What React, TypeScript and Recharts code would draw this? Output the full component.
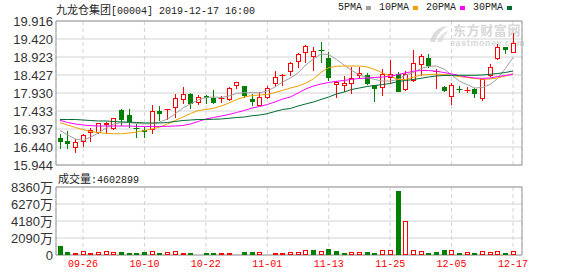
import React from "react";
import {
  ComposedChart,
  Bar,
  Line,
  XAxis,
  YAxis,
  CartesianGrid,
  ReferenceArea,
} from "recharts";

// trading days shown (HK market, 2019)
const dates = [
  "09-23", "09-24", "09-25", "09-26", "09-27", "09-30",
  "10-02", "10-03", "10-04", "10-08", "10-09", "10-10", "10-11", "10-14", "10-15",
  "10-16", "10-17", "10-18", "10-21", "10-22", "10-23", "10-24", "10-25", "10-28",
  "10-29", "10-30", "10-31",
  "11-01", "11-04", "11-05", "11-06", "11-07", "11-08", "11-11", "11-12", "11-13",
  "11-14", "11-15", "11-18", "11-19", "11-20", "11-21", "11-22", "11-25", "11-26",
  "11-27", "11-28", "11-29",
  "12-02", "12-03", "12-04", "12-05", "12-06", "12-09", "12-10", "12-11", "12-12",
  "12-13", "12-16", "12-17",
];

const tickDates = ["09-26", "10-10", "10-22", "11-01", "11-13", "11-25", "12-05", "12-17"];

const opens = [
  16.698, 16.606, 16.422, 16.579, 16.817, 16.817, 17.038, 16.928, 17.452, 17.314,
  16.974, 16.909, 16.909, 17.434, 17.461, 17.507, 17.728, 17.912, 17.663, 17.847,
  17.783, 17.765, 17.728, 18.123, 18.123, 17.774, 17.571, 17.783, 18.169, 18.417,
  18.519, 18.785, 19.043, 18.932, 19.116, 18.905, 18.141, 18.114, 18.169, 18.39,
  18.417, 18.151, 18.059, 18.335, 18.445, 18.004, 18.261, 18.702, 18.886, 18.528,
  18.105, 17.82, 18.05, 18.004, 18.031, 17.755, 18.399, 18.859, 19.199, 19.043,
];
const closes = [
  16.588, 16.533, 16.579, 16.762, 16.909, 17.093, 17.093, 17.231, 17.185, 17.112,
  16.928, 16.864, 17.424, 17.36, 17.48, 17.783, 17.893, 17.636, 17.829, 17.801,
  17.645, 17.783, 18.059, 18.224, 17.847, 17.691, 17.82, 18.059, 18.371, 18.426,
  18.748, 18.997, 19.217, 19.079, 19.098, 18.353, 18.233, 18.206, 18.353, 18.472,
  18.169, 18.05, 18.445, 18.445, 17.967, 18.463, 18.767, 18.951, 18.675, 18.537,
  17.985, 18.141, 18.013, 18.022, 17.893, 18.307, 18.656, 19.208, 19.107, 19.3,
];
const highs = [
  16.79, 16.882, 16.652, 16.79, 16.974, 17.112, 17.13, 17.25, 17.48, 17.48,
  17.066, 16.992, 17.59, 17.571, 17.489, 17.893, 18.096, 17.939, 17.875, 17.875,
  18.013, 17.847, 18.096, 18.233, 18.132, 17.893, 17.958, 18.123, 18.537, 18.445,
  18.794, 19.043, 19.245, 19.199, 19.346, 19.061, 18.261, 18.399, 18.656, 18.656,
  18.491, 18.151, 18.583, 18.84, 18.509, 18.537, 19.107, 18.997, 19.015, 18.583,
  18.123, 18.215, 18.123, 18.105, 18.077, 18.325, 18.721, 19.291, 19.208, 19.594,
];
const lows = [
  16.395, 16.376, 16.284, 16.441, 16.588, 16.808, 16.79, 16.919, 17.011, 16.974,
  16.698, 16.698, 16.79, 17.158, 17.185, 17.25, 17.636, 17.48, 17.59, 17.617,
  17.617, 17.663, 17.709, 18.031, 17.801, 17.571, 17.562, 17.755, 18.105, 18.123,
  18.399, 18.61, 18.767, 18.537, 18.767, 18.261, 17.801, 17.958, 17.893, 18.307,
  18.151, 17.691, 17.847, 18.169, 17.967, 17.985, 18.243, 18.399, 18.629, 18.05,
  17.967, 17.599, 17.939, 17.939, 17.801, 17.709, 18.38, 18.84, 19.015, 19.024,
];

const ma5 = [
  16.896, 16.772, 16.661, 16.62, 16.716, 16.827, 16.965, 17.075, 17.111, 17.111,
  17.089, 17.075, 17.083, 17.13, 17.213, 17.351, 17.516, 17.627, 17.737, 17.806,
  17.82, 17.806, 17.847, 17.916, 17.938, 17.938, 17.938, 17.985, 18.096, 18.233,
  18.344, 18.482, 18.702, 18.868, 19.006, 18.992, 18.854, 18.702, 18.551, 18.427,
  18.358, 18.302, 18.261, 18.261, 18.302, 18.427, 18.495, 18.606, 18.661, 18.675,
  18.592, 18.427, 18.261, 18.164, 18.068, 18.082, 18.164, 18.33, 18.606, 18.909,
];
const ma10 = [
  17.111, 17.047, 16.978, 16.923, 16.868, 16.84, 16.818, 16.807, 16.807, 16.827,
  16.854, 16.896, 16.937, 16.992, 17.075, 17.171, 17.268, 17.364, 17.447, 17.475,
  17.508, 17.571, 17.654, 17.751, 17.82, 17.861, 17.875, 17.889, 17.944, 18.004,
  18.068, 18.12, 18.2, 18.32, 18.5, 18.633, 18.666, 18.675, 18.675, 18.675,
  18.647, 18.578, 18.482, 18.399, 18.302, 18.302, 18.363, 18.427, 18.44, 18.446,
  18.44, 18.418, 18.385, 18.358, 18.33, 18.308, 18.316, 18.344, 18.399, 18.462,
];
const ma20 = [
  17.177, 17.116, 17.075, 17.047, 17.028, 17.02, 17.02, 17.02, 17.02, 17.02,
  17.011, 17.006, 17.006, 17.006, 17.011, 17.02, 17.034, 17.075, 17.144, 17.213,
  17.254, 17.296, 17.337, 17.392, 17.447, 17.516, 17.558, 17.613, 17.682, 17.764,
  17.82, 17.93, 18.04, 18.123, 18.178, 18.22, 18.253, 18.275, 18.308, 18.33,
  18.344, 18.358, 18.371, 18.391, 18.44, 18.482, 18.529, 18.551, 18.551, 18.529,
  18.495, 18.454, 18.413, 18.371, 18.344, 18.335, 18.344, 18.385, 18.413, 18.446,
];
const ma30 = [
  17.199, 17.199, 17.199, 17.185, 17.171, 17.158, 17.158, 17.144, 17.13, 17.13,
  17.116, 17.103, 17.103, 17.103, 17.116, 17.144, 17.171, 17.185, 17.199, 17.199,
  17.205, 17.213, 17.232, 17.254, 17.268, 17.301, 17.323, 17.359, 17.42, 17.475,
  17.502, 17.571, 17.627, 17.682, 17.751, 17.82, 17.903, 17.958, 18.027, 18.068,
  18.109, 18.137, 18.164, 18.192, 18.247, 18.275, 18.302, 18.335, 18.371, 18.399,
  18.413, 18.418, 18.418, 18.418, 18.418, 18.427, 18.446, 18.468, 18.495, 18.537,
];

// volume in 万 shares
const volumes = [
  1100, 370, 240, 450, 250, 330, 450, 330, 370, 250,
  240, 360, 450, 250, 320, 440, 230, 250, 130, 240,
  250, 240, 250, 120, 380, 370, 320, 130, 240, 250,
  330, 320, 570, 580, 450, 740, 490, 250, 320, 330,
  370, 250, 570, 580, 7870, 4140, 580, 450, 250, 370,
  610, 570, 240, 330, 250, 450, 330, 450, 250, 460,
];
// 1 = closed above previous close (red), 0 = below (green)
const volumeUp = [
  0, 0, 1, 1, 1, 1, 1, 1, 0, 0,
  0, 0, 1, 0, 1, 1, 1, 0, 1, 0,
  0, 1, 1, 1, 0, 0, 1, 1, 1, 1,
  1, 1, 1, 0, 1, 0, 0, 0, 1, 1,
  0, 0, 1, 1, 0, 1, 1, 1, 0, 0,
  0, 1, 0, 1, 0, 1, 1, 1, 0, 1,
];

const priceTicks = [15.944, 16.44, 16.937, 17.433, 17.93, 18.427, 18.923, 19.42, 19.916];
const volumeTicks = [0, 2090, 4180, 6270, 8360];
const lastVolume = "4602899";

const RED = "#ff0000";
const GREEN = "#008000";
const MA_COLORS = { ma5: "#a0a0a0", ma10: "#f0a000", ma20: "#ff00ff", ma30: "#006b33" };
const X_DOMAIN: [number, number] = [-0.52, 60.17];
const axisFont = "'Liberation Sans', Arial, 'Noto Sans CJK SC', sans-serif";
const monoFont = "'Liberation Mono', 'DejaVu Sans Mono', monospace";

const data = dates.map((d, i) => ({
  idx: i,
  date: d,
  open: opens[i],
  close: closes[i],
  high: highs[i],
  low: lows[i],
  range: [lows[i], highs[i]],
  ma5: ma5[i],
  ma10: ma10[i],
  ma20: ma20[i],
  ma30: ma30[i],
  vol: volumes[i],
  volUp: volumeUp[i],
}));

const xTicks = data.filter((d) => tickDates.includes(d.date)).map((d) => d.idx);

function Candle(props: any) {
  const { x, y, width, height, payload } = props;
  if (x == null || !payload) return null;
  const { open, close, high, low } = payload;
  const top = Math.min(y, y + height);
  const span = Math.abs(height);
  const toY = (v: number) => top + ((high - v) / (high - low)) * span;
  const cx = Math.round(x + width / 2) + 0.5;
  const up = close >= open;
  const color = up ? RED : GREEN;
  const bTop = Math.round(toY(Math.max(open, close)));
  const bBot = Math.round(toY(Math.min(open, close)));
  const wTop = Math.round(top);
  const wBot = Math.round(top + span);

  if (bBot - bTop < 2) {
    return (
      <g>
        <line x1={cx} x2={cx} y1={wTop} y2={wBot} stroke={color} />
        <line x1={cx - 3} x2={cx + 3} y1={bTop + 0.5} y2={bTop + 0.5} stroke={color} />
      </g>
    );
  }
  if (up) {
    return (
      <g>
        <line x1={cx} x2={cx} y1={wTop} y2={bTop} stroke={color} />
        <line x1={cx} x2={cx} y1={bBot} y2={wBot} stroke={color} />
        <rect x={cx - 2} y={bTop + 0.5} width={4} height={bBot - bTop - 1} fill="#fff" stroke={color} />
      </g>
    );
  }
  return (
    <g>
      <line x1={cx} x2={cx} y1={wTop} y2={wBot} stroke={color} />
      <rect x={cx - 2.5} y={bTop} width={5} height={bBot - bTop} fill={color} />
    </g>
  );
}

function VolumeBar(props: any) {
  const { x, y, width, height, payload } = props;
  if (x == null || !payload) return null;
  const cx = Math.round(x + width / 2) + 0.5;
  const top = Math.round(Math.min(y, y + height));
  const base = Math.round(Math.max(y, y + height));
  if (payload.volUp) {
    return (
      <rect x={cx - 2} y={top + 0.5} width={4} height={Math.max(base - top - 1, 0)} fill="#fff" stroke={RED} />
    );
  }
  return <rect x={cx - 2.5} y={top} width={5} height={base - top} fill={GREEN} />;
}

const legendItems = [
  { label: "5PMA", color: MA_COLORS.ma5 },
  { label: "10PMA", color: MA_COLORS.ma10 },
  { label: "20PMA", color: MA_COLORS.ma20 },
  { label: "30PMA", color: MA_COLORS.ma30 },
];

export default function App() {
  return (
    <div style={{ position: "relative", width: 578, height: 276, background: "#fff", overflow: "hidden" }}>
      <style>{`body{margin:0}`}</style>

      {/* watermark */}
      <svg style={{ position: "absolute", left: 426, top: 24 }} width={24} height={20}>
        <path d="M4 18 C6 8 12 3 22 2 C15 6 11 11 9 18 Z" fill="#dcdcdc" />
        <path d="M11 18 C13 12 17 8 23 7 C19 10 17 14 16 18 Z" fill="#e4e4e4" />
      </svg>
      <div
        style={{
          position: "absolute",
          left: 453,
          top: 23,
          font: "bold 13px 'Noto Sans CJK SC', sans-serif",
          lineHeight: "14px",
          letterSpacing: 0.6,
          color: "#d8d8d8",
          whiteSpace: "nowrap",
        }}
      >
        东方财富网
      </div>
      <div
        style={{
          position: "absolute",
          left: 450,
          top: 39,
          font: "bold 9px 'Liberation Sans', Arial, sans-serif",
          lineHeight: "9px",
          letterSpacing: 0.6,
          color: "#d8d8d8",
          whiteSpace: "nowrap",
        }}
      >
        eastmoney.com
      </div>

      {/* title */}
      <div style={{ position: "absolute", left: 56, top: 1, lineHeight: "14px", color: "#222", whiteSpace: "nowrap" }}>
        <span style={{ font: "11px 'Noto Sans CJK SC', sans-serif" }}>九龙仓集团</span>
        <span style={{ font: `10px ${monoFont}` }}>[00004] 2019-12-17 16:00</span>
      </div>

      {/* legend */}
      <div
        style={{
          position: "absolute",
          left: 338,
          top: 1,
          display: "flex",
          alignItems: "center",
          font: `10px ${monoFont}`,
          lineHeight: "14px",
          color: "#222",
          whiteSpace: "nowrap",
        }}
      >
        {legendItems.map((it, i) => (
          <span key={it.label} style={{ display: "flex", alignItems: "center", marginLeft: i ? 8 : 0 }}>
            {it.label}
            <span style={{ display: "inline-block", width: 5, height: 4, background: it.color, marginLeft: 4 }} />
          </span>
        ))}
      </div>

      {/* price chart */}
      <div style={{ position: "absolute", left: 0, top: 0 }}>
        <ComposedChart width={578} height={176} data={data} margin={{ top: 21, right: 56, bottom: 11, left: 0 }}>
          <CartesianGrid vertical={false} stroke="#d3d3d3" />
          <CartesianGrid horizontal={false} stroke="#d3d3d3" strokeDasharray="4 3" />
          <XAxis dataKey="idx" type="number" domain={X_DOMAIN} ticks={xTicks} allowDataOverflow hide />
          <YAxis
            domain={[15.944, 19.916]}
            ticks={priceTicks}
            interval={0}
            allowDataOverflow
            tickFormatter={(v: number) => v.toFixed(3)}
            axisLine={false}
            tickLine={false}
            tickSize={0}
            tickMargin={3}
            width={56}
            tick={{ fontSize: 13, fill: "#333", fontFamily: axisFont }}
          />
          <ReferenceArea
            x1={X_DOMAIN[0]}
            x2={X_DOMAIN[1]}
            y1={15.944}
            y2={19.916}
            fill="none"
            stroke="#999"
            ifOverflow="visible"
          />
          <Bar dataKey="range" barSize={5} shape={Candle} isAnimationActive={false} />
          <Line dataKey="ma5" stroke={MA_COLORS.ma5} dot={false} activeDot={false} strokeWidth={1} isAnimationActive={false} />
          <Line dataKey="ma10" stroke={MA_COLORS.ma10} dot={false} activeDot={false} strokeWidth={1} isAnimationActive={false} />
          <Line dataKey="ma20" stroke={MA_COLORS.ma20} dot={false} activeDot={false} strokeWidth={1} isAnimationActive={false} />
          <Line dataKey="ma30" stroke={MA_COLORS.ma30} dot={false} activeDot={false} strokeWidth={1} isAnimationActive={false} />
        </ComposedChart>
      </div>

      {/* volume label */}
      <div style={{ position: "absolute", left: 58, top: 170, lineHeight: "14px", color: "#222", whiteSpace: "nowrap" }}>
        <span style={{ font: "11px 'Noto Sans CJK SC', sans-serif" }}>成交量</span>
        <span style={{ font: `10px ${monoFont}` }}>:{lastVolume}</span>
      </div>

      {/* volume chart */}
      <div style={{ position: "absolute", left: 0, top: 170 }}>
        <ComposedChart width={578} height={106} data={data} margin={{ top: 17, right: 56, bottom: 0, left: 0 }}>
          <CartesianGrid vertical={false} stroke="#d3d3d3" />
          <CartesianGrid horizontal={false} stroke="#d3d3d3" strokeDasharray="4 3" />
          <XAxis
            dataKey="idx"
            type="number"
            domain={X_DOMAIN}
            ticks={xTicks}
            interval={0}
            allowDataOverflow
            tickFormatter={(i: number) => dates[i]}
            axisLine={false}
            tickLine={false}
            tickSize={0}
            tickMargin={5}
            height={21}
            tick={{ fontSize: 10, fill: RED, fontFamily: monoFont }}
          />
          <YAxis
            domain={[0, 8360]}
            ticks={volumeTicks}
            interval={0}
            allowDataOverflow
            tickFormatter={(v: number) => (v === 0 ? "0" : `${v}万`)}
            axisLine={false}
            tickLine={false}
            tickSize={0}
            tickMargin={3}
            width={56}
            tick={{ fontSize: 13, fill: "#333", fontFamily: axisFont }}
          />
          <ReferenceArea
            x1={X_DOMAIN[0]}
            x2={X_DOMAIN[1]}
            y1={0}
            y2={8360}
            fill="none"
            stroke="#999"
            ifOverflow="visible"
          />
          <Bar dataKey="vol" barSize={5} shape={VolumeBar} isAnimationActive={false} />
        </ComposedChart>
      </div>
    </div>
  );
}
